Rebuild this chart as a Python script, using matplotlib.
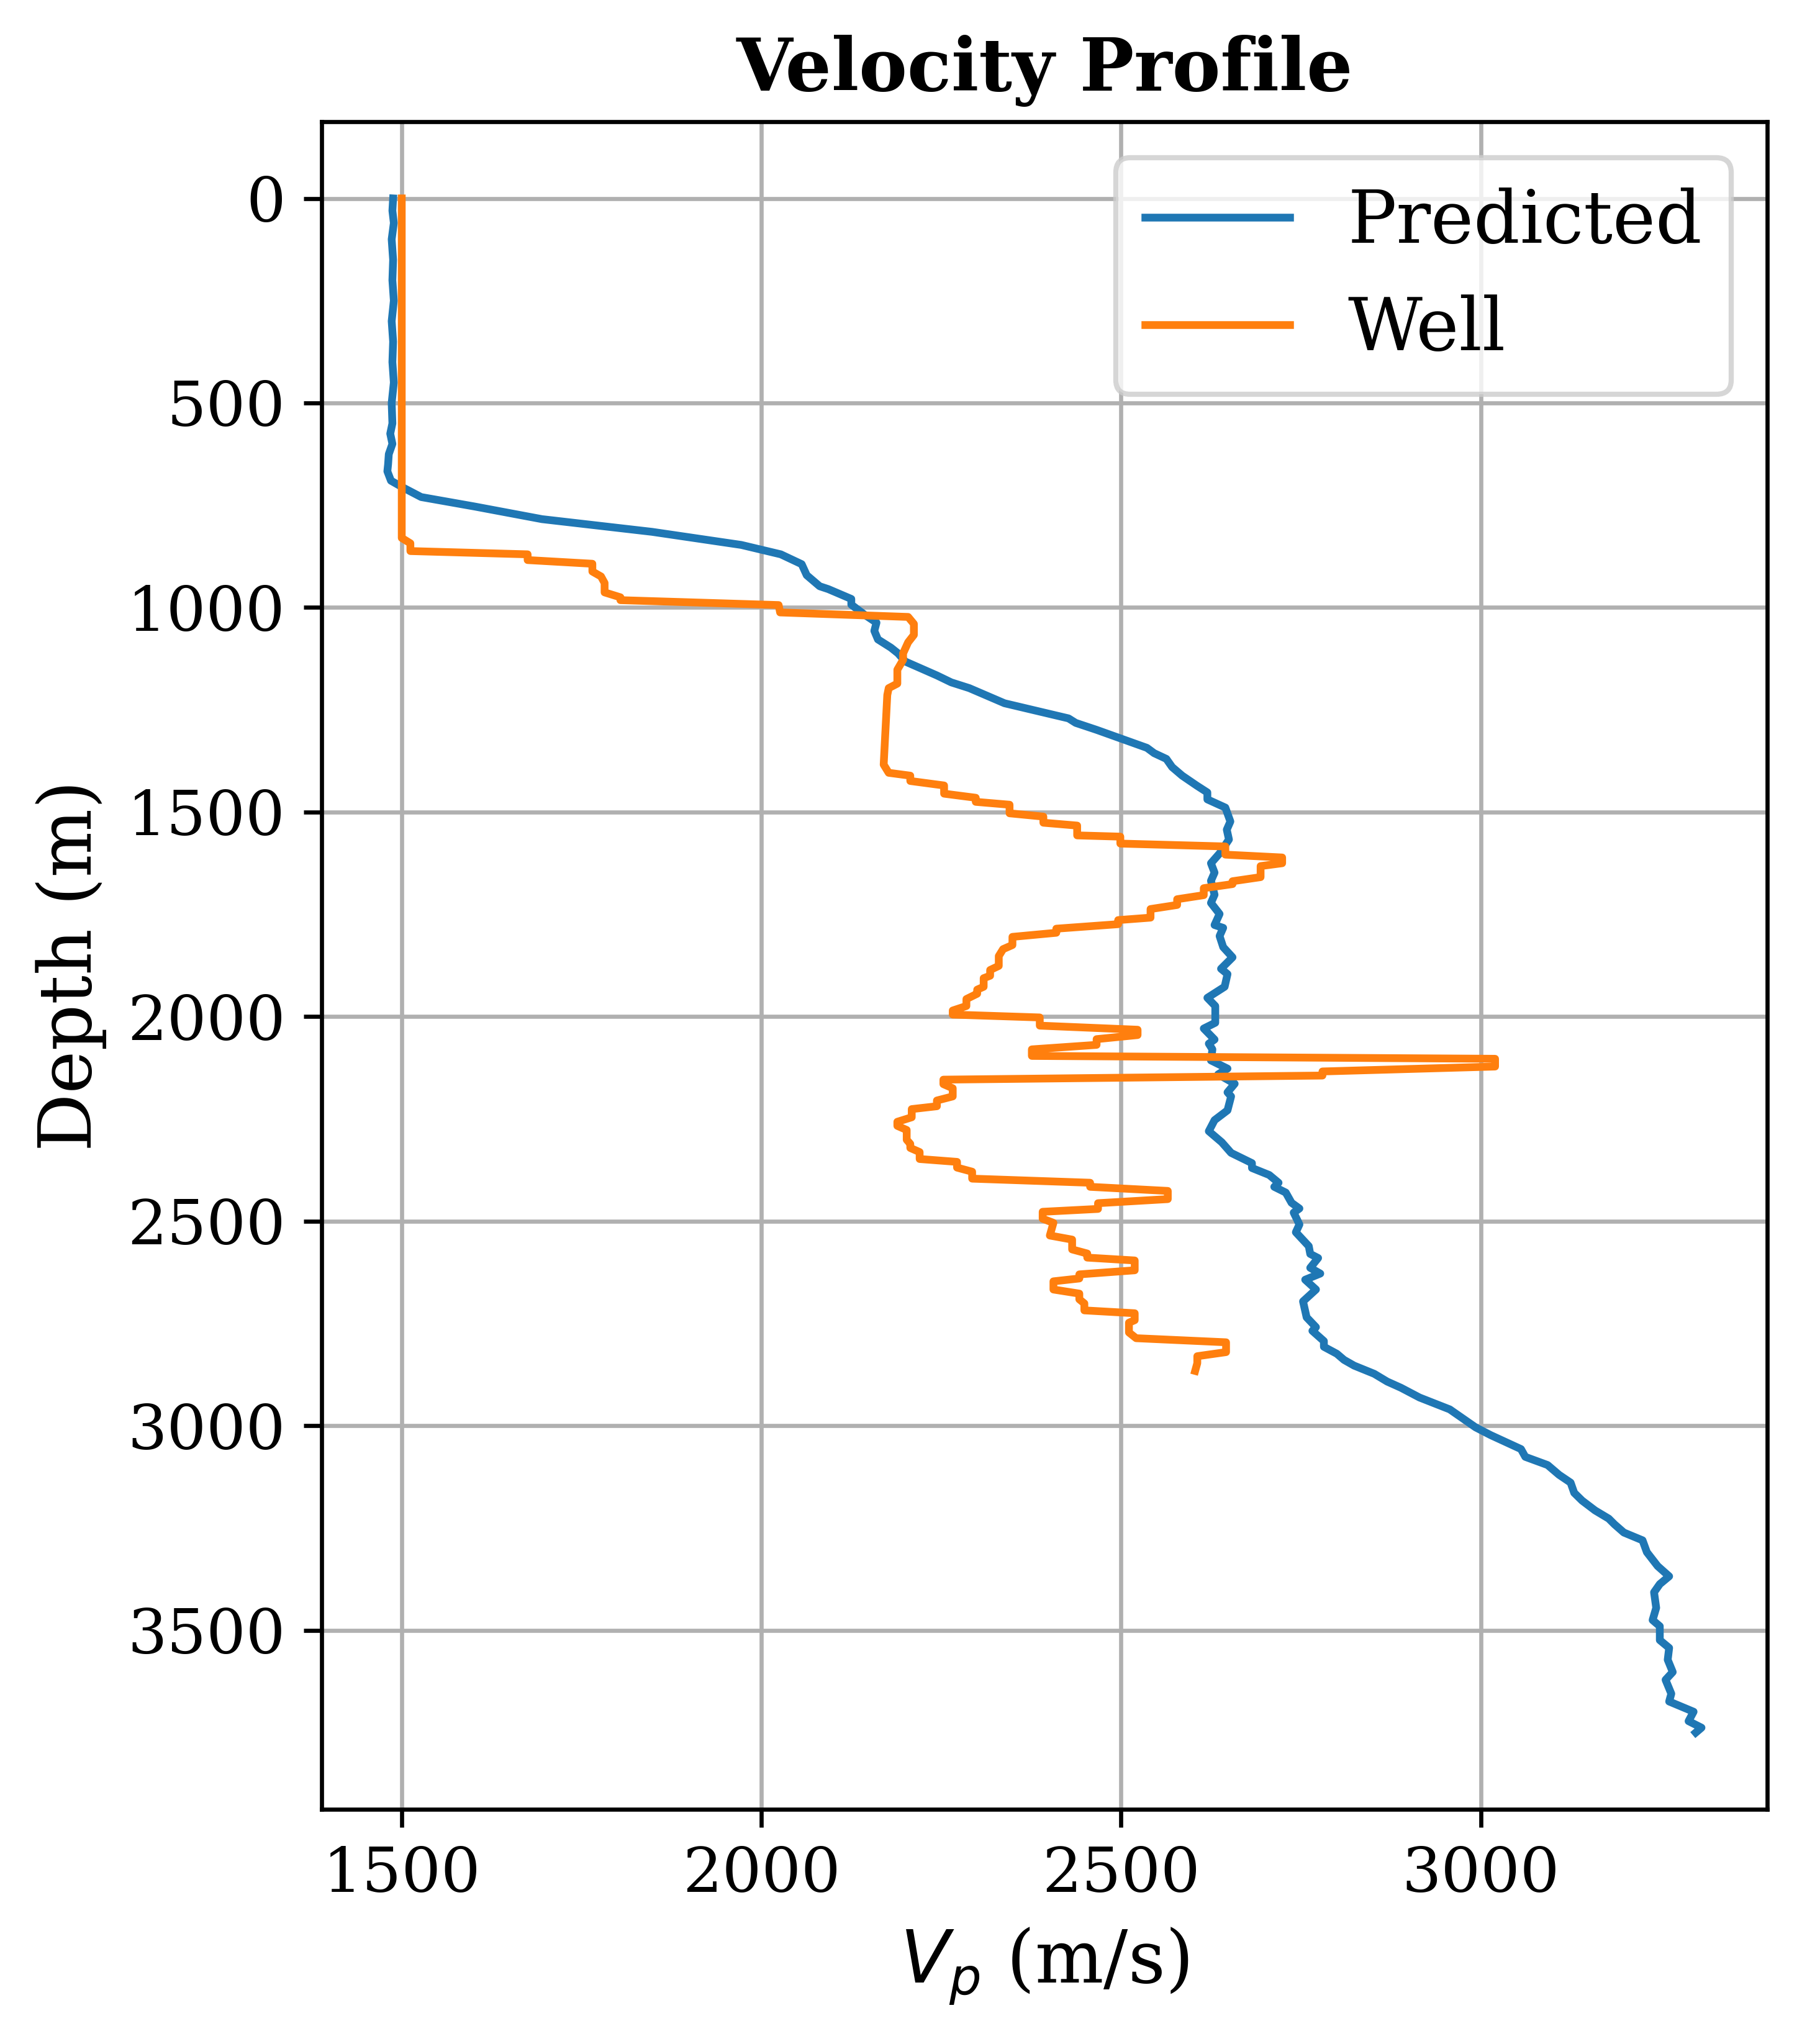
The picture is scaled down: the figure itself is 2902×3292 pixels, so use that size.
import numpy as np
import matplotlib
matplotlib.use("Agg")
import matplotlib.pyplot as plt

plt.rcParams['font.family'] = 'serif'

# predicted velocity profile (depth in m, Vp in m/s)
pred_depth = [0, 30, 60, 100, 150, 200, 250, 300, 350, 400, 450, 500, 550, 575, 600,
              625, 650, 667, 690, 707, 730, 753, 784, 815, 847, 870, 894, 921, 948, 955,
              979, 993, 1017, 1037, 1057, 1078, 1098, 1112, 1132, 1166, 1183, 1197, 1234,
              1271, 1282, 1299, 1343, 1356, 1370, 1390, 1411, 1435, 1452, 1469, 1489, 1523,
              1543, 1567, 1601, 1625, 1648, 1668, 1702, 1722, 1749, 1776, 1783, 1803, 1830,
              1855, 1883, 1896, 1927, 1954, 1974, 2015, 2029, 2056, 2066, 2080, 2107, 2127,
              2141, 2164, 2185, 2195, 2229, 2253, 2280, 2307, 2333, 2358, 2370, 2387, 2406,
              2416, 2430, 2455, 2469, 2479, 2508, 2527, 2561, 2580, 2590, 2614, 2628, 2643,
              2667, 2696, 2735, 2759, 2768, 2793, 2807, 2824, 2839, 2853, 2873, 2892, 2907,
              2931, 2960, 3004, 3023, 3057, 3076, 3096, 3120, 3139, 3164, 3183, 3207, 3227,
              3241, 3261, 3280, 3309, 3343, 3368, 3387, 3407, 3445, 3475, 3490, 3524, 3543,
              3572, 3602, 3621, 3655, 3674, 3699, 3722, 3738, 3750]
pred_vp = [1488, 1487, 1489, 1486, 1488, 1487, 1489, 1486, 1488, 1487, 1489, 1486, 1487, 1484, 1487,
           1482, 1481, 1480, 1485, 1502, 1527, 1601, 1695, 1848, 1972, 2027, 2056, 2063, 2081, 2093,
           2125, 2125, 2143, 2160, 2157, 2162, 2180, 2190, 2200, 2244, 2264, 2289, 2338,
           2427, 2437, 2466, 2536, 2546, 2563, 2571, 2585, 2605, 2620, 2620, 2645, 2652,
           2647, 2650, 2637, 2625, 2630, 2625, 2630, 2625, 2637, 2630, 2642, 2637, 2642,
           2655, 2639, 2648, 2644, 2620, 2631, 2631, 2615, 2630, 2622, 2627, 2625, 2648,
           2635, 2658, 2648, 2653, 2648, 2630, 2622, 2640, 2653, 2682, 2682, 2706, 2719,
           2713, 2729, 2737, 2748, 2740, 2748, 2743, 2761, 2763, 2774, 2763, 2777, 2756,
           2771, 2753, 2758, 2771, 2766, 2782, 2782, 2800, 2810, 2824, 2852, 2870, 2889,
           2915, 2957, 2993, 3014, 3056, 3062, 3093, 3109, 3125, 3130, 3141, 3159, 3178,
           3186, 3199, 3225, 3231, 3246, 3262, 3249, 3241, 3244, 3239, 3249, 3249, 3262,
           3260, 3267, 3257, 3265, 3262, 3296, 3289, 3307, 3299]

# well log velocity
well_depth = [0, 830, 843, 862, 870, 884, 893, 912, 924, 940, 963, 975, 982, 994, 1012,
              1023, 1040, 1067, 1085, 1112, 1128, 1152, 1186, 1197, 1214, 1384, 1404, 1411,
              1424, 1435, 1455, 1465, 1475, 1482, 1503, 1511, 1526, 1533, 1557, 1560, 1577,
              1584, 1604, 1611, 1625, 1632, 1659, 1669, 1676, 1686, 1703, 1713, 1727, 1737,
              1758, 1764, 1774, 1785, 1795, 1805, 1825, 1835, 1852, 1876, 1886, 1900, 1906,
              1927, 1934, 1944, 1957, 1974, 1985, 1995, 2002, 2022, 2032, 2045, 2055, 2069,
              2080, 2096, 2103, 2122, 2134, 2144, 2154, 2165, 2175, 2195, 2205, 2219, 2226,
              2246, 2257, 2267, 2277, 2301, 2311, 2321, 2331, 2348, 2355, 2369, 2379, 2396,
              2406, 2416, 2426, 2446, 2456, 2470, 2477, 2494, 2504, 2535, 2545, 2569, 2579,
              2589, 2596, 2620, 2630, 2640, 2647, 2667, 2677, 2691, 2701, 2718, 2725, 2742,
              2748, 2772, 2786, 2796, 2820, 2830, 2847, 2866]
well_vp = [1500, 1500, 1512, 1512, 1675, 1675, 1765, 1765, 1777, 1782, 1782, 1804, 1804, 2024, 2026,
           2204, 2212, 2212, 2204, 2197, 2197, 2189, 2189, 2177, 2175, 2170, 2177, 2207,
           2207, 2254, 2254, 2298, 2298, 2345, 2345, 2392, 2392, 2439, 2439, 2499, 2499,
           2645, 2645, 2724, 2724, 2694, 2694, 2655, 2655, 2615, 2615, 2578, 2578, 2541,
           2541, 2496, 2496, 2410, 2410, 2349, 2349, 2336, 2330, 2330, 2318, 2318, 2309,
           2309, 2300, 2300, 2285, 2285, 2266, 2266, 2387, 2387, 2523, 2523, 2466, 2466,
           2376, 2376, 3020, 3020, 2780, 2780, 2253, 2253, 2266, 2266, 2244, 2244, 2209,
           2209, 2189, 2189, 2202, 2202, 2207, 2207, 2220, 2220, 2272, 2272, 2293, 2293,
           2457, 2457, 2565, 2565, 2468, 2468, 2391, 2391, 2406, 2401, 2432, 2432, 2453,
           2453, 2519, 2519, 2442, 2442, 2406, 2406, 2442, 2442, 2449, 2449, 2519, 2519,
           2511, 2511, 2521, 2646, 2646, 2606, 2606, 2603]

fig = plt.figure(figsize=(2903/600, 3292/600), dpi=600)
ax = fig.add_axes([518/2903, (3292-2914)/3292, (2846-518)/2903, (2914-196)/3292])

ax.plot(pred_vp, pred_depth, label='Predicted')
ax.plot(well_vp, well_depth, label='Well')
ax.invert_yaxis()
ax.grid(True)

ax.set_xlabel('$V_p$ (m/s)', fontsize=14)
ax.set_ylabel('Depth (m)', fontsize=14)
ax.set_title('Velocity Profile', fontsize=14, fontweight='bold')
ax.tick_params(labelsize=12)
ax.legend(fontsize=14, loc='upper right')

fig.savefig('out.png', dpi=600)
